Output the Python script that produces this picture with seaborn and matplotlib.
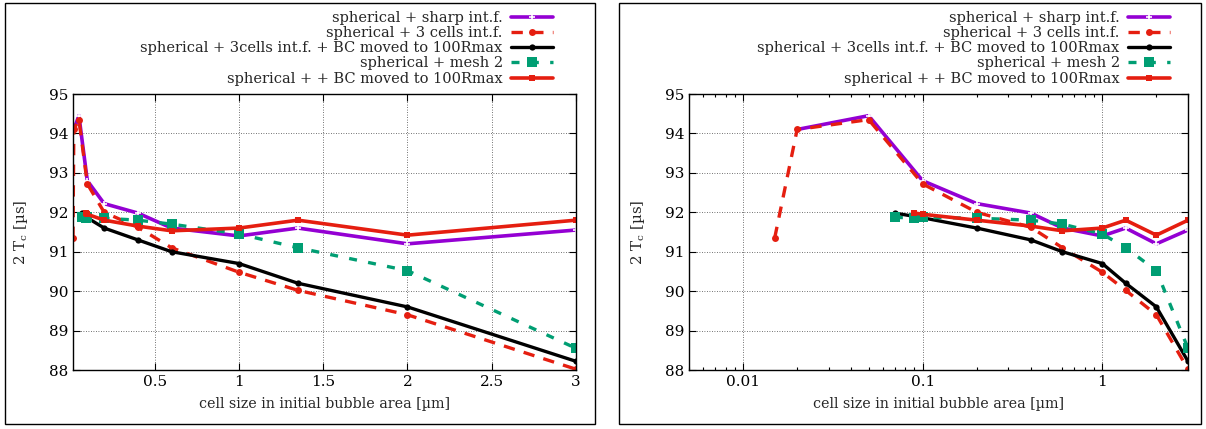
import matplotlib
matplotlib.use("Agg")
import matplotlib.pyplot as plt
import seaborn as sns
from matplotlib.patches import Rectangle
from matplotlib.ticker import FixedLocator, LogLocator, NullFormatter, FormatStrFormatter

# Oscillation period 2*Tc versus cell size for the different set-ups
sharp_x = [0.02, 0.05, 0.1, 0.2, 0.4, 0.6, 1.0, 1.35, 2.0, 3.0]
sharp_y = [94.1, 94.45, 92.8, 92.22, 91.98, 91.6, 91.4, 91.6, 91.2, 91.55]

cells3_x = [0.015, 0.02, 0.05, 0.1, 0.2, 0.4, 0.6, 1.0, 1.35, 2.0, 3.0]
cells3_y = [91.35, 94.1, 94.35, 92.72, 92.0, 91.62, 91.1, 90.48, 90.02, 89.4, 88.02]

bc_x = [0.07, 0.1, 0.2, 0.4, 0.6, 1.0, 1.35, 2.0, 3.0]
bc_y = [91.98, 91.86, 91.6, 91.3, 91.0, 90.7, 90.2, 89.6, 88.22]

mesh2_x = [0.07, 0.09, 0.1, 0.2, 0.4, 0.6, 1.0, 1.35, 2.0, 3.0]
mesh2_y = [91.87, 91.86, 91.87, 91.85, 91.8, 91.7, 91.45, 91.1, 90.52, 88.55]

bcmove_x = [0.09, 0.1, 0.2, 0.4, 0.6, 1.0, 1.35, 2.0, 3.0]
bcmove_y = [91.98, 91.95, 91.8, 91.65, 91.53, 91.6, 91.8, 91.42, 91.8]

labels = [
    "spherical + sharp int.f.",
    "spherical + 3 cells int.f.",
    "spherical + 3cells int.f. + BC moved to 100Rmax",
    "spherical + mesh 2",
    "spherical + + BC moved to 100Rmax",
]

xlabel = "cell size in initial bubble area [\u00b5m]"
ylabel = "2 T$_\\mathrm{c}$ [\u00b5s]"

sns.set_style("ticks")
plt.rcParams["font.family"] = ["DejaVu Serif"]
plt.rcParams["mathtext.fontset"] = "dejavuserif"
plt.rcParams["font.size"] = 10

PURPLE = "#9400d3"
RED = "#e51e10"
GREEN = "#009e73"
BLACK = "#000000"

styles = [
    dict(color=PURPLE, linestyle="-", lw=2.6, marker="+", markersize=4, markeredgewidth=1.2),
    dict(color=RED, linestyle=(0, (3.4, 2.8)), lw=2.4, marker="o", markersize=5, markeredgewidth=0),
    dict(color=BLACK, linestyle="-", lw=2.4, marker="o", markersize=4.5, markeredgewidth=0),
    dict(color=GREEN, linestyle=(0, (2.4, 3.4)), lw=2.4, marker="s", markersize=6.5, markeredgewidth=0),
    dict(color=RED, linestyle="-", lw=2.6, marker="s", markersize=4.5, markeredgewidth=0),
]
data = [(sharp_x, sharp_y), (cells3_x, cells3_y), (bc_x, bc_y),
        (mesh2_x, mesh2_y), (bcmove_x, bcmove_y)]

W, H = 1206, 429
fig = plt.figure(figsize=(W / 100, H / 100), dpi=100)

def frac_rect(x0, y0, x1, y1):
    return [x0 / W, 1 - y1 / H, (x1 - x0) / W, (y1 - y0) / H]

ax_lin = fig.add_axes(frac_rect(73, 94, 576, 370))
ax_log = fig.add_axes(frac_rect(689, 94, 1188, 370))

# panel frames
for x0, x1 in [(5, 595), (619, 1201)]:
    fig.patches.append(Rectangle((x0 / W, 1 - 424 / H), (x1 - x0) / W, 421 / H,
                                 transform=fig.transFigure, fill=False,
                                 edgecolor="black", lw=1.0))

for ax in (ax_lin, ax_log):
    for (xs, ys), lab, st in zip(data, labels, styles):
        sns.lineplot(x=xs, y=ys, ax=ax, label=lab, sort=False, estimator=None, **st)
    ax.set_ylim(88, 95)
    ax.yaxis.set_major_locator(FixedLocator(range(88, 96)))
    ax.set_xlabel(xlabel, fontsize=10.3, labelpad=6)
    ax.set_ylabel(ylabel, fontsize=10.8)
    ax.grid(True, which="major", linestyle=(0, (1, 2)), color="#444444", lw=0.6)
    ax.tick_params(which="both", direction="in", top=True, right=True,
                   labelsize=11, width=0.8, colors="black")
    ax.tick_params(which="major", length=5)
    ax.tick_params(which="minor", length=2.5)
    for s in ax.spines.values():
        s.set_linewidth(1.0)
        s.set_color("black")
    ax.get_legend().remove()

ax_lin.set_xlim(0.015, 3)
ax_lin.xaxis.set_major_locator(FixedLocator([0.5, 1, 1.5, 2, 2.5, 3]))
ax_lin.xaxis.set_major_formatter(FormatStrFormatter("%g"))

ax_log.set_xscale("log")
ax_log.set_xlim(0.005, 3)
ax_log.xaxis.set_major_locator(FixedLocator([0.01, 0.1, 1]))
ax_log.xaxis.set_major_formatter(FormatStrFormatter("%g"))
ax_log.xaxis.set_minor_locator(LogLocator(base=10, subs=range(2, 10), numticks=20))
ax_log.xaxis.set_minor_formatter(NullFormatter())

for ax, right in [(ax_lin, 553), (ax_log, 1170)]:
    handles, labs = ax.get_legend_handles_labels()
    ax.legend(handles, labs, loc="upper right",
              bbox_to_anchor=(right / W, 1 - 11 / H), bbox_transform=fig.transFigure,
              markerfirst=False, frameon=False, fontsize=10.5, handlelength=2.9,
              handletextpad=0.55, labelspacing=0.08, borderpad=0, borderaxespad=0)

ax_lin.yaxis.set_label_coords(-0.085, 0.5)
ax_log.yaxis.set_label_coords(-0.085, 0.5)

fig.savefig("out.png", dpi=100)
